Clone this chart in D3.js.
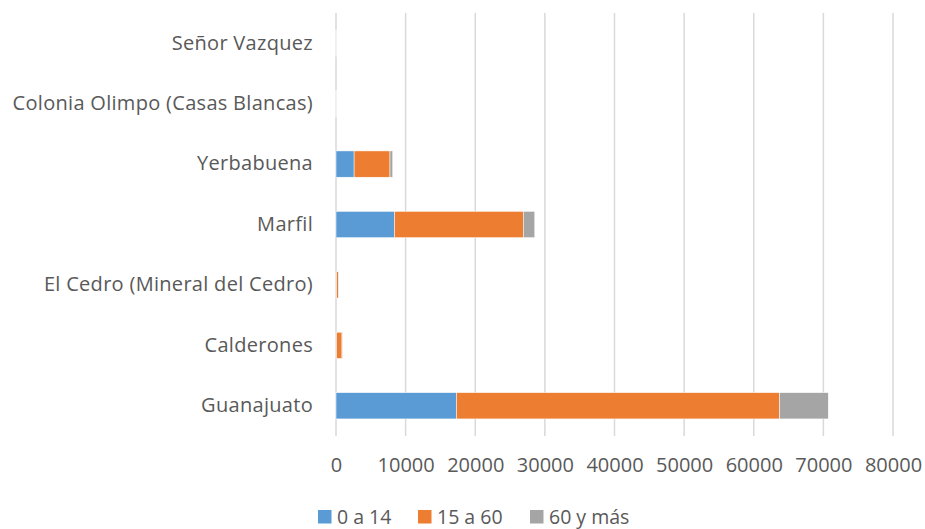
<!DOCTYPE html>
<html>
<head>
<meta charset="utf-8">
<script src="https://cdn.jsdelivr.net/npm/d3@7"></script>
<style>
  body { margin: 0; background: #fff; }
  text { font-family: "Open Sans", "Liberation Sans", sans-serif; fill: #595959; }
</style>
</head>
<body>
<svg id="chart" width="925" height="529"></svg>
<script>
// localidades, top to bottom as drawn
var localidades = ["Señor Vazquez", "Colonia Olimpo (Casas Blancas)", "Yerbabuena", "Marfil",
                   "El Cedro (Mineral del Cedro)", "Calderones", "Guanajuato"];
var series = ["0 a 14", "15 a 60", "60 y más"];
var edad0a14  = [5, 5, 2600, 8400, 100, 80, 17300];
var edad15a60 = [10, 10, 5150, 18500, 250, 780, 46400];
var edad60mas = [3, 3, 400, 1650, 30, 60, 7000];
var xTicks = [0, 10000, 20000, 30000, 40000, 50000, 60000, 70000, 80000];
var colores = ["#5b9bd5", "#ed7d31", "#a5a5a5"];

var svg = d3.select("#chart");
var margin = {top: 13, left: 336, right: 32, bottom: 93};
var width = 925 - margin.left - margin.right;
var height = 529 - margin.top - margin.bottom;

var rows = localidades.map(function (d, i) {
    return {name: d, "0 a 14": edad0a14[i], "15 a 60": edad15a60[i], "60 y más": edad60mas[i]};
});
var stacked = d3.stack().keys(series)(rows);

var x = d3.scaleLinear().domain([0, 80000]).range([0, width]);
var y = d3.scaleBand().domain(localidades).range([0, height]).paddingInner(0.565).paddingOuter(0.2825);

var g = svg.append("g").attr("transform", "translate(" + margin.left + "," + margin.top + ")");

// gridlines
g.selectAll(".grid").data(xTicks).enter().append("line")
    .attr("x1", function (d) { return x(d); })
    .attr("x2", function (d) { return x(d); })
    .attr("y1", 0).attr("y2", height)
    .attr("stroke", "#d9d9d9").attr("stroke-width", 1.5);

g.selectAll(".serie").data(stacked).enter().append("g")
    .attr("fill", function (d, i) { return colores[i]; })
    .selectAll("rect").data(function (d) { return d; }).enter().append("rect")
    .attr("x", function (d) { return x(d[0]); })
    .attr("width", function (d) { return Math.max(0, x(d[1]) - x(d[0])); })
    .attr("y", function (d) { return y(d.data.name); })
    .attr("height", y.bandwidth())
    .attr("stroke", "#fff").attr("stroke-width", 0.5);

// x axis labels
var xAxis = d3.axisBottom(x).tickValues(xTicks).tickSize(0).tickPadding(22).tickFormat(d3.format("d"));
var ax = g.append("g").attr("transform", "translate(0," + height + ")").call(xAxis);
ax.select(".domain").remove();
ax.selectAll("text").style("font-size", "20px").attr("fill", "#595959");

// y axis labels
var yAxis = d3.axisLeft(y).tickSize(0).tickPadding(23);
var ay = g.append("g").call(yAxis);
ay.select(".domain").remove();
ay.selectAll("text").style("font-size", "20px").style("letter-spacing", "0.3px").attr("fill", "#595959");

// legend
var legX = [318, 418, 530];
var leg = svg.append("g").selectAll("g").data(series).enter().append("g")
    .attr("transform", function (d, i) { return "translate(" + legX[i] + ",510)"; });
leg.append("rect").attr("width", 13.5).attr("height", 13.5)
    .attr("fill", function (d, i) { return colores[i]; });
leg.append("text").attr("x", 19).attr("y", 13.5).style("font-size", "19.5px").text(function (d) { return d; });
</script>
</body>
</html>
